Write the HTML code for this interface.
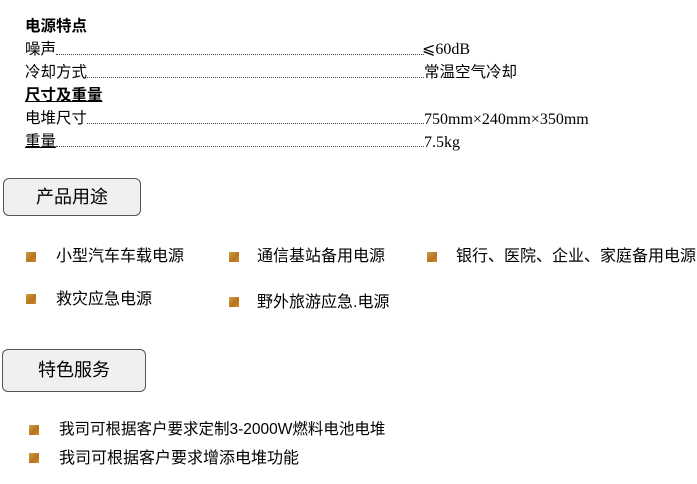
<!DOCTYPE html>
<html><head><meta charset="utf-8"><style>
body{margin:0;width:697px;height:484px;background:#fff;position:relative;overflow:hidden;font-family:"Liberation Serif","Noto Sans CJK SC",serif;color:#000}
.t{position:absolute;font-size:15.5px;line-height:18px;white-space:nowrap}
.n{font-size:16px}
.s{font-family:"Liberation Sans","Noto Sans CJK SC",sans-serif}
.b{font-weight:bold}
.dots{position:absolute;height:0;border-bottom:1px dotted #444}
.btn{position:absolute;background:#f0f0f0;border:1px solid #555;border-radius:6px;font-family:"Liberation Sans","Noto Sans CJK SC",sans-serif;font-size:18px;text-align:center;box-sizing:border-box}
.bl{position:absolute;width:10px;height:10px;background:linear-gradient(135deg,#c9a040,#b8741e 60%,#d98a2a)}
.i{position:absolute;font-family:"Liberation Sans","Noto Sans CJK SC",sans-serif;font-size:16px;line-height:18px;white-space:nowrap}
</style></head><body>
<div class="t s b" style="left:25px;top:18px">电源特点</div>
<div class="t s" style="left:25px;top:41px">噪声</div><div class="dots" style="left:56px;right:273px;top:54px"></div><div class="t n" style="left:422px;top:41px">⩽60dB</div>
<div class="t s" style="left:25px;top:64px">冷却方式</div><div class="dots" style="left:87px;right:273px;top:77px"></div><div class="t s" style="left:424px;top:64px">常温空气冷却</div>
<div class="t s b" style="left:25px;top:87px;text-decoration:underline">尺寸及重量</div>
<div class="t s" style="left:25px;top:110px">电堆尺寸</div><div class="dots" style="left:87px;right:273px;top:123px"></div><div class="t n" style="left:424px;top:111px">750mm×240mm×350mm</div>
<div class="t s" style="left:25px;top:133px;text-decoration:underline">重量</div><div class="dots" style="left:56px;right:273px;top:146px"></div><div class="t n" style="left:424px;top:134px">7.5kg</div>
<div class="btn" style="left:3px;top:178px;width:138px;height:38px;line-height:36px">产品用途</div>
<div class="bl" style="left:26px;top:252px"></div><div class="i" style="left:56px;top:248px">小型汽车车载电源</div>
<div class="bl" style="left:229px;top:252px"></div><div class="i" style="left:257px;top:248px">通信基站备用电源</div>
<div class="bl" style="left:427px;top:252px"></div><div class="i" style="left:456px;top:248px">银行、医院、企业、家庭备用电源</div>
<div class="bl" style="left:26px;top:294px"></div><div class="i" style="left:56px;top:291px">救灾应急电源</div>
<div class="bl" style="left:229px;top:297px"></div><div class="i" style="left:257px;top:294px">野外旅游应急.电源</div>
<div class="btn" style="left:2px;top:349px;width:144px;height:43px;line-height:41px">特色服务</div>
<div class="bl" style="left:29px;top:425px"></div><div class="i" style="left:59px;top:421px;font-size:15.5px">我司可根据客户要求定制3-2000W燃料电池电堆</div>
<div class="bl" style="left:29px;top:453px"></div><div class="i" style="left:59px;top:450px">我司可根据客户要求增添电堆功能</div>
</body></html>
